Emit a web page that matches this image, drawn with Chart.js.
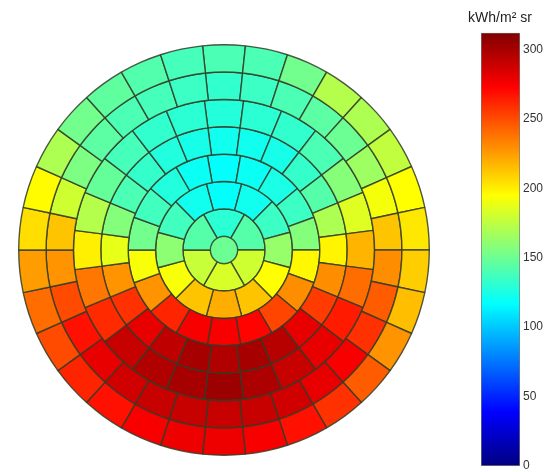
<!DOCTYPE html>
<html>
<head>
<meta charset="utf-8">
<script src="https://cdn.jsdelivr.net/npm/chart.js@4.4.0/dist/chart.umd.min.js"></script>
<style>
  body { margin: 0; background: #fff; }
  #dome { position: absolute; left: 18px; top: 44px; width: 426px; height: 412px; }
  #bar { position: absolute; left: 450px; top: 0; width: 100px; height: 472px; }
</style>
</head>
<body>
<canvas id="dome" width="412" height="412"></canvas>
<canvas id="bar" width="100" height="472"></canvas>
<script>
// sky patches (Tregenza), each ring listed clockwise starting at the top patch
const VMAX = 312;
const ring1 = [140, 140, 152, 172, 170, 176, 195, 202, 210, 215, 228, 245, 258, 268, 275,
               278, 278, 275, 268, 262, 250, 240, 225, 205, 196, 170, 152, 146, 142, 138];
const ring2 = [132, 135, 140, 145, 150, 165, 192, 213, 230, 245, 258, 275, 280, 287, 290,
               290, 290, 290, 287, 280, 268, 250, 228, 213, 180, 155, 145, 140, 138, 135];
const ring3 = [128, 130, 132, 140, 158, 185, 218, 240, 265, 280, 290, 298,
               303, 300, 297, 290, 260, 237, 200, 172, 148, 138, 132, 130];
const ring4 = [122, 122, 124, 133, 143, 170, 198, 230, 255, 280, 295, 300,
               297, 300, 293, 280, 258, 228, 188, 157, 140, 133, 127, 124];
const ring5 = [118, 120, 125, 135, 157, 197, 230, 252, 272, 275, 275, 262, 228, 193, 152, 137, 127, 120];
const ring6 = [118, 122, 135, 163, 195, 213, 220, 213, 193, 160, 137, 122];
const ring7 = [130, 143, 180, 183, 178, 143];
const zenith = [150];
const colorTicks = [0, 50, 100, 150, 200, 250, 300];

function jet(v) {
  const t = Math.min(Math.max(v / VMAX, 0), 1);
  const c = x => Math.round(255 * Math.min(Math.max(x, 0), 1));
  return 'rgb(' + c(1.5 - Math.abs(4 * t - 3)) + ',' + c(1.5 - Math.abs(4 * t - 2)) + ',' + c(1.5 - Math.abs(4 * t - 1)) + ')';
}

const rings = [ring1, ring2, ring3, ring4, ring5, ring6, ring7, zenith];

const domeChart = new Chart(document.getElementById('dome'), {
  type: 'doughnut',
  data: {
    datasets: rings.map(r => ({
      data: r.map(() => 1),
      values: r,
      backgroundColor: r.map(jet),
      borderColor: 'rgba(50, 60, 40, 0.85)',
      borderWidth: r.length === 1 ? 0 : 1.4,
      weight: r.length === 1 ? 1 : 2,
      rotation: r.length === 1 ? 0 : -180 / r.length
    }))
  },
  options: {
    responsive: false,
    animation: false,
    events: [],
    cutout: 0,
    plugins: { legend: { display: false }, tooltip: { enabled: false } }
  }
});

// colour bar
const barChart = new Chart(document.getElementById('bar'), {
  type: 'bar',
  data: {
    labels: [''],
    datasets: [{
      data: [VMAX],
      yAxisID: 'y',
      barPercentage: 1,
      categoryPercentage: 1,
      borderWidth: 1,
      borderColor: '#777',
      borderSkipped: false,
      backgroundColor: function (ctx) {
        const area = ctx.chart.chartArea;
        if (!area) return '#fff';
        const g = ctx.chart.ctx.createLinearGradient(0, area.bottom, 0, area.top);
        for (let i = 0; i <= 16; i++) {
          g.addColorStop(i / 16, jet(VMAX * i / 16));
        }
        return g;
      }
    }]
  },
  options: {
    responsive: false,
    animation: false,
    events: [],
    layout: { padding: { bottom: 6 } },
    plugins: {
      legend: { display: false },
      tooltip: { enabled: false },
      title: {
        display: true,
        text: 'kWh/m² sr',
        color: '#222',
        font: { family: 'Liberation Sans, Arial, sans-serif', size: 14, weight: 'normal' },
        padding: { top: 10, bottom: 6 }
      }
    },
    scales: {
      x: { display: false },
      y: {
        position: 'right',
        min: 0,
        max: VMAX,
        grid: { display: false, drawTicks: false },
        border: { display: false },
        afterBuildTicks: s => { s.ticks = colorTicks.map(v => ({ value: v })); },
        afterFit: s => { s.width = 30; s.paddingTop = 0; s.paddingBottom = 0; },
        ticks: {
          padding: 3,
          color: '#333',
          font: { family: 'Liberation Sans, Arial, sans-serif', size: 12 }
        }
      },
      yl: {
        position: 'left',
        grid: { display: false },
        border: { display: false },
        ticks: { display: false },
        afterFit: s => { s.width = 31; s.paddingTop = 0; s.paddingBottom = 0; }
      }
    }
  }
});
</script>
</body>
</html>
